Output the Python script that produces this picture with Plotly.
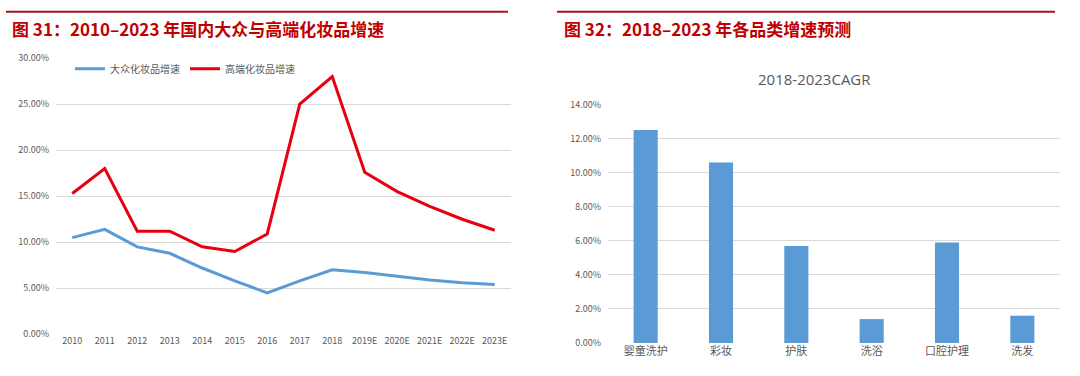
import plotly.graph_objects as go

years = ["2010", "2011", "2012", "2013", "2014", "2015", "2016", "2017", "2018",
         "2019E", "2020E", "2021E", "2022E", "2023E"]
mass_growth = [0.105, 0.114, 0.095, 0.088, 0.072, 0.058, 0.045, 0.058, 0.070,
               0.067, 0.063, 0.059, 0.056, 0.054]
premium_growth = [0.153, 0.180, 0.112, 0.112, 0.095, 0.090, 0.109, 0.250, 0.280,
                  0.176, 0.155, 0.139, 0.125, 0.113]

categories = ["婴童洗护", "彩妆", "护肤", "洗浴", "口腔护理", "洗发"]
cagr = [0.125, 0.106, 0.057, 0.014, 0.059, 0.016]

W, H = 1080, 376
def px(x):
    return x / W
def py(y):
    return 1 - y / H

FONT = "Noto Sans CJK SC"
TICK = dict(family=FONT, size=9, color="#595959")
GRID = "#d9d9d9"

fig = go.Figure()
fig.add_trace(go.Scatter(x=years, y=mass_growth, mode="lines", name="大众化妆品增速",
                         line=dict(color="#5b9bd5", width=3), xaxis="x", yaxis="y"))
fig.add_trace(go.Scatter(x=years, y=premium_growth, mode="lines", name="高端化妆品增速",
                         line=dict(color="#e60012", width=3), xaxis="x", yaxis="y"))
fig.add_trace(go.Bar(x=categories, y=cagr, marker=dict(color="#5b9bd5", line=dict(width=0)),
                     showlegend=False, xaxis="x2", yaxis="y2"))

fig.update_layout(
    width=W, height=H,
    margin=dict(l=0, r=0, t=0, b=0),
    paper_bgcolor="white", plot_bgcolor="white",
    font=dict(family=FONT, color="#595959"),
    bargap=0.68,
    xaxis=dict(domain=[px(56), px(511)], anchor="y", type="category",
               range=[-0.5, 13.5], showgrid=False, showline=False, ticks="",
               tickfont=TICK, zeroline=False),
    yaxis=dict(domain=[py(339), py(53)], anchor="x", range=[0, 0.30], dtick=0.05,
               tickformat=".2%", showgrid=True, gridcolor=GRID, gridwidth=1,
               zeroline=False, showline=False, ticks="", tickfont=TICK, ticklabelstandoff=6),
    xaxis2=dict(domain=[px(608), px(1060)], anchor="y2", type="category",
                range=[-0.5, 5.5], showgrid=False, showline=False, ticks="",
                tickfont=dict(family=FONT, size=11, color="#595959"), zeroline=False),
    yaxis2=dict(domain=[py(348), py(101)], anchor="x2", range=[0, 0.14], dtick=0.02,
                tickformat=".2%", showgrid=True, gridcolor=GRID, gridwidth=1,
                zeroline=False, showline=False, ticks="", tickfont=TICK, ticklabelstandoff=6),
    legend=dict(orientation="h", x=px(70), y=py(64), xanchor="left", yanchor="middle",
                font=dict(family=FONT, size=10, color="#595959"), itemwidth=30,
                bgcolor="rgba(0,0,0,0)", tracegroupgap=0),
    shapes=[
        dict(type="line", xref="paper", yref="paper", x0=px(6), x1=px(508), y0=py(5), y1=py(5),
             line=dict(color="#a8141c", width=2)),
        dict(type="line", xref="paper", yref="paper", x0=px(557), x1=px(1055), y0=py(5), y1=py(5),
             line=dict(color="#a8141c", width=2)),
    ],
    annotations=[
        dict(text="<b>图 31：2010–2023 年国内大众与高端化妆品增速</b>", xref="paper", yref="paper",
             x=px(10), y=py(22), xanchor="left", yanchor="middle", showarrow=False,
             font=dict(family=FONT, size=17, color="#c00000")),
        dict(text="<b>图 32：2018–2023 年各品类增速预测</b>", xref="paper", yref="paper",
             x=px(562), y=py(22), xanchor="left", yanchor="middle", showarrow=False,
             font=dict(family=FONT, size=17, color="#c00000")),
        dict(text="2018-2023CAGR", xref="paper", yref="paper",
             x=px(814), y=py(75), xanchor="center", yanchor="middle", showarrow=False,
             font=dict(family="Open Sans", size=15, color="#595959")),
    ],
)

fig.write_html("out.html", config={"displayModeBar": False},
               post_script="document.body.style.margin='0';document.body.style.overflow='hidden';")
